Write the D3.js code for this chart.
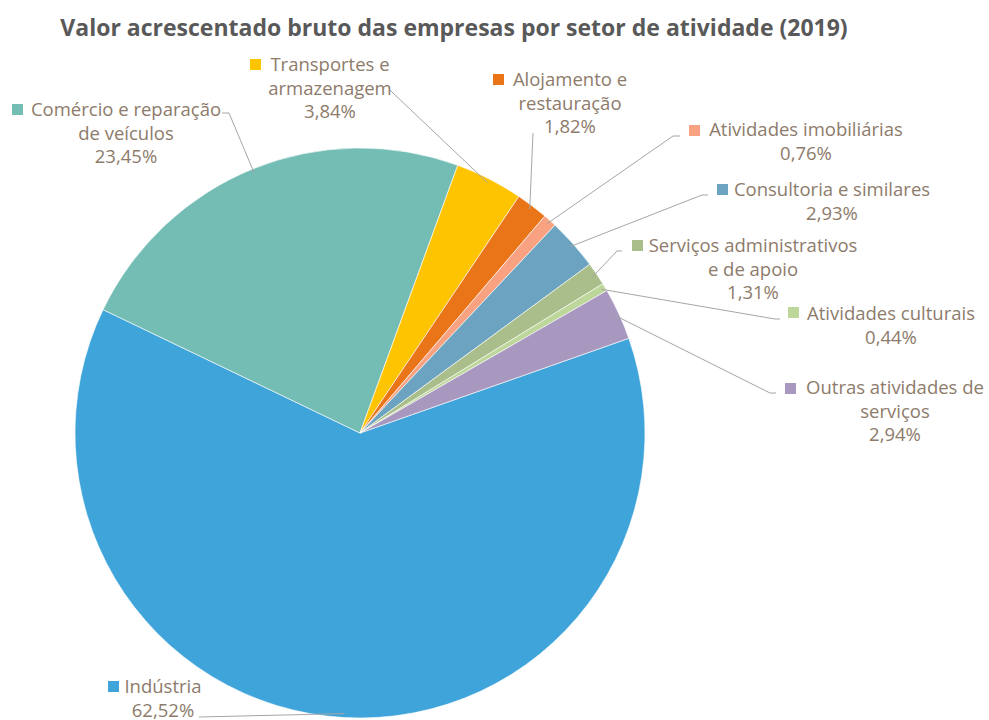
<!DOCTYPE html>
<html>
<head>
<meta charset="utf-8">
<script src="https://cdn.jsdelivr.net/npm/d3@7"></script>
<style>
  body { margin: 0; background: #fff; }
  text { font-family: "Open Sans", sans-serif; }
</style>
</head>
<body>
<svg id="chart" width="989" height="720"></svg>
<script>
// data
var categories = ["Indústria", "Comércio e reparação\nde veículos", "Transportes e\narmazenagem",
  "Alojamento e\nrestauração", "Atividades imobiliárias", "Consultoria e similares",
  "Serviços administrativos\ne de apoio", "Atividades culturais", "Outras atividades de\nserviços"];
var values = [62.52, 23.45, 3.84, 1.82, 0.76, 2.93, 1.31, 0.44, 2.94];
var colors = ["#3fa4da", "#73bdb5", "#ffc400", "#ea7519", "#f9a282", "#6ba3c1", "#a9be8a", "#bdd699", "#a898bf"];
var title = "Valor acrescentado bruto das empresas por setor de atividade (2019)";

// label placement (center x, first baseline, legend square, elbow of leader line)
var labelPos = [
  {cx: 163, y: 693, sq: [108, 681], elbow: [[199, 717], [199, 717]]},
  {cx: 126, y: 116, sq: [12, 104], elbow: [[222, 113], [229, 113]]},
  {cx: 330, y: 71, sq: [250, 59], elbow: [[390, 90], [393, 93]]},
  {cx: 570, y: 86, sq: [493, 74], elbow: [[533, 133], [533, 133]]},
  {cx: 806, y: 136, sq: [689, 125], elbow: [[680, 136], [673, 136]]},
  {cx: 832, y: 196, sq: [717, 184], elbow: [[708, 195], [702, 195]]},
  {cx: 753, y: 252, sq: [632, 240], elbow: [[622, 251], [617, 251]]},
  {cx: 891, y: 320, sq: [788, 307], elbow: [[780, 319], [775, 319]]},
  {cx: 895, y: 394, sq: [785, 383], elbow: [[776, 393], [770, 393]]}
];

var cx = 360, cy = 433, radius = 285, lineH = 23.5;
var startA = 70.6 * Math.PI / 180;
var textColor = "#8d7b6b";

var fmt = d3.formatLocale({decimal: ",", thousands: ".", grouping: [3], currency: ["", "€"]}).format(".2f");

var svg = d3.select("#chart");

svg.append("text")
  .attr("x", 454)
  .attr("y", 36)
  .attr("text-anchor", "middle")
  .attr("font-size", 23)
  .attr("font-weight", "bold")
  .attr("fill", "#595959")
  .text(title);

var pie = d3.pie()
  .value(function(d) { return d; })
  .sort(null)
  .startAngle(startA)
  .endAngle(startA + 2 * Math.PI);

var arc = d3.arc().innerRadius(0).outerRadius(radius);
var edge = d3.arc().innerRadius(radius * 2 - 4).outerRadius(-4); // centroid lands at radius - 4

var arcs = pie(values);

var g = svg.append("g").attr("transform", "translate(" + cx + "," + cy + ")");

g.selectAll("path")
  .data(arcs)
  .enter().append("path")
  .attr("d", arc)
  .attr("fill", function(d, i) { return colors[i]; })
  .attr("stroke", "#fff")
  .attr("stroke-width", 0.6);

// leader lines
svg.selectAll(".leader")
  .data(arcs)
  .enter().append("polyline")
  .attr("class", "leader")
  .attr("fill", "none")
  .attr("stroke", "#a6a6a6")
  .attr("stroke-width", 1)
  .attr("points", function(d, i) {
    var c = edge.centroid(d);
    var p = labelPos[i].elbow;
    return [p[0], p[1], [cx + c[0], cy + c[1]]].map(function(q) { return q.join(","); }).join(" ");
  });

// labels
var lab = svg.selectAll(".lab")
  .data(arcs)
  .enter().append("g")
  .attr("class", "lab");

lab.append("rect")
  .attr("x", function(d, i) { return labelPos[i].sq[0]; })
  .attr("y", function(d, i) { return labelPos[i].sq[1]; })
  .attr("width", 11)
  .attr("height", 11)
  .attr("fill", function(d, i) { return colors[i]; });

lab.each(function(d, i) {
  var lines = categories[i].split("\n").concat([fmt(values[i]) + "%"]);
  var t = d3.select(this).append("text")
    .attr("text-anchor", "middle")
    .attr("font-size", 18.5)
    .attr("fill", textColor);
  lines.forEach(function(s, k) {
    t.append("tspan")
      .attr("x", labelPos[i].cx)
      .attr("y", labelPos[i].y + k * lineH)
      .text(s);
  });
});
</script>
</body>
</html>
